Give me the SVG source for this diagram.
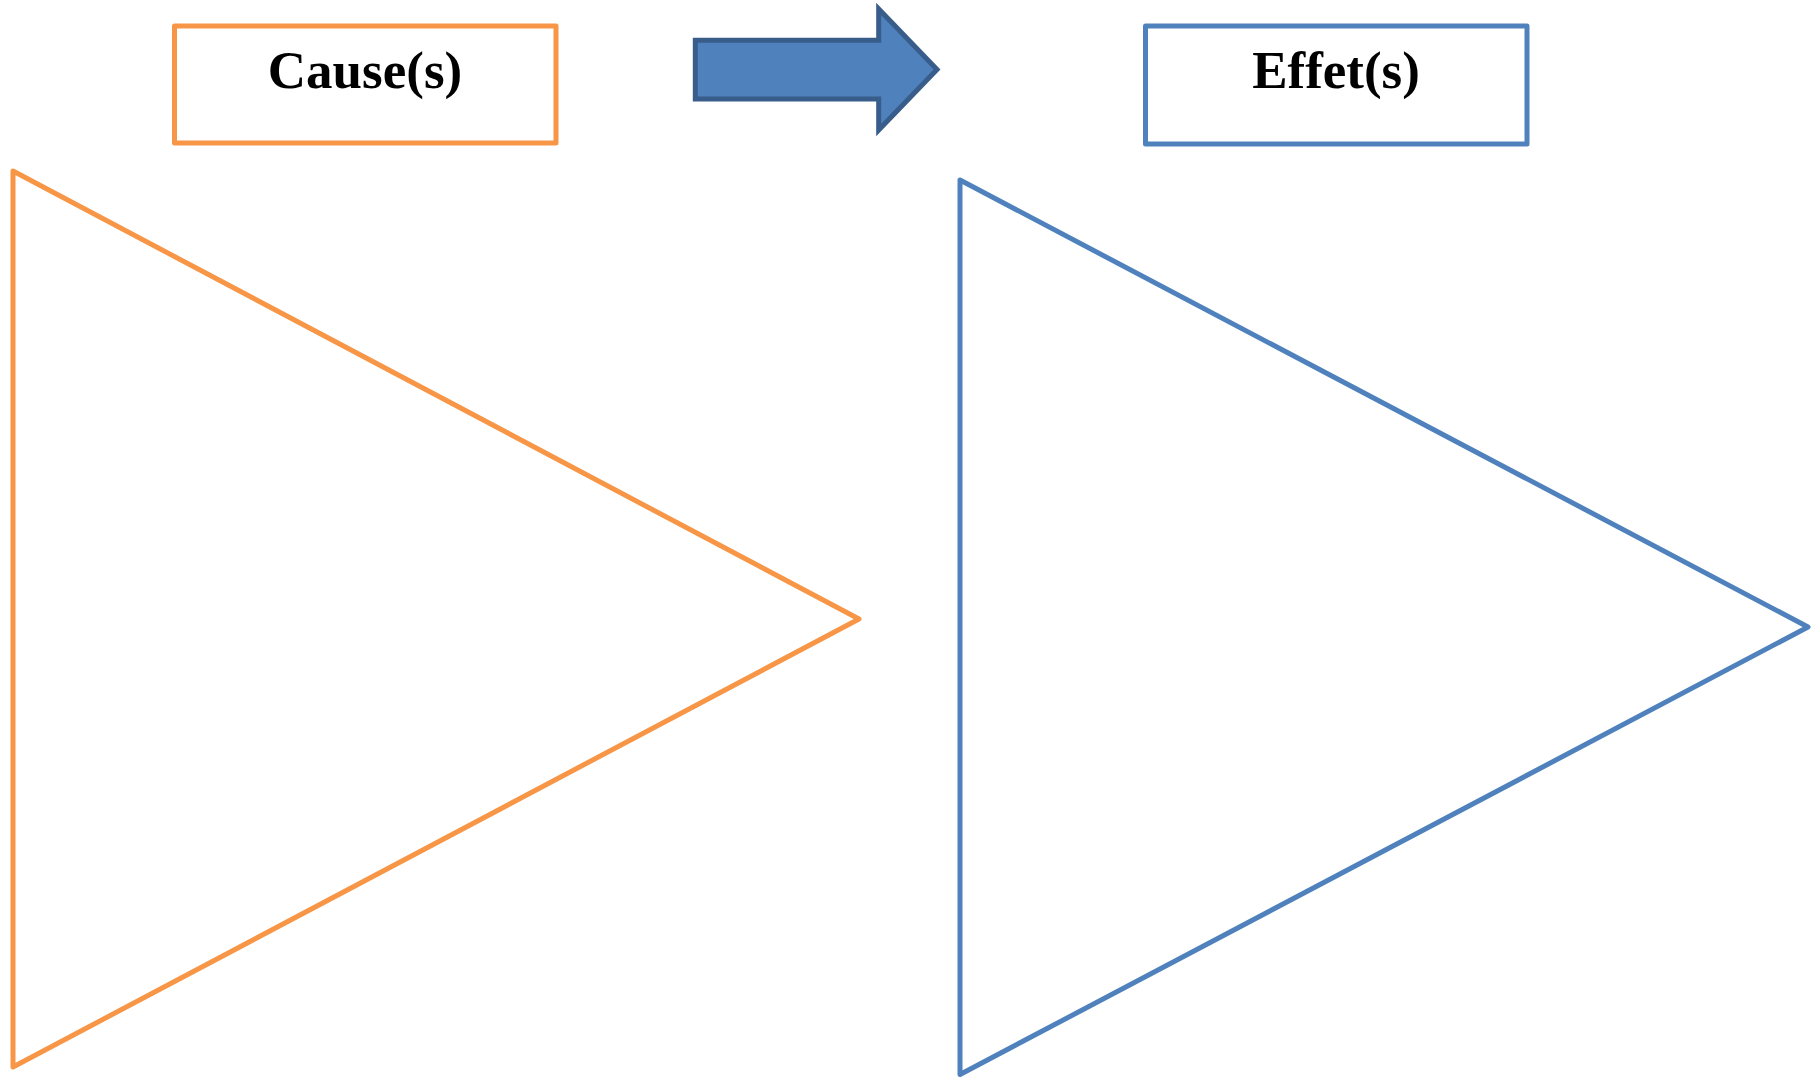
<svg xmlns="http://www.w3.org/2000/svg" width="1814" height="1078" viewBox="0 0 1814 1078">
  <style>
    .lbl { font-family: "Liberation Serif", "Times New Roman", serif; font-weight: bold; font-size: 53px; fill: #000; text-anchor: middle; }
    .orange { fill: #FFFFFF; stroke: #F79646; stroke-width: 5; stroke-linejoin: round; }
    .blue { fill: #FFFFFF; stroke: #4F81BD; stroke-width: 5; stroke-linejoin: round; }
    .arrow { fill: #4F81BD; stroke: #385D8A; stroke-width: 5; stroke-linejoin: miter; }
  </style>
  <rect width="1814" height="1078" fill="#FFFFFF"/>
  <g id="cause-triangle">
    <polygon class="orange" points="13,171 859,619 13,1067"/>
  </g>
  <g id="effet-triangle">
    <polygon class="blue" points="960,180 1808,627 960,1074.5"/>
  </g>
  <g id="cause-box">
    <rect class="orange" x="174.5" y="26" width="381.5" height="117"/>
    <text class="lbl" x="365" y="88">Cause(s)</text>
  </g>
  <g id="effet-box">
    <rect class="blue" x="1145.5" y="26" width="381.5" height="118"/>
    <text class="lbl" x="1336" y="88">Effet(s)</text>
  </g>
  <g id="connectors">
    <polygon class="arrow" points="695.3,40.3 878.7,40.3 878.7,9 937,69.5 878.7,130 878.7,99 695.3,99"/>
  </g>
</svg>
